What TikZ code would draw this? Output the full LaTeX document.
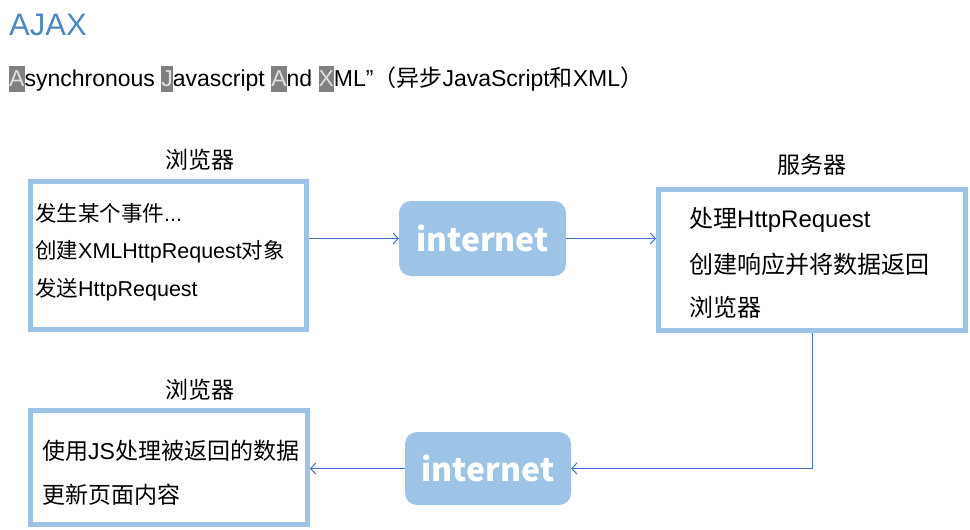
\documentclass[tikz,border=0pt]{standalone}
\usepackage{fontspec}
\setmainfont{Liberation Sans}
\newfontfamily\cjk{Noto Sans CJK SC}
\usetikzlibrary{arrows.meta}
\definecolor{boxblue}{RGB}{157,195,230}
\definecolor{arrowblue}{RGB}{68,114,196}
\definecolor{titleblue}{RGB}{74,134,192}
\definecolor{hlgray}{RGB}{128,128,128}
\newcommand{\hl}[1]{{\setlength{\fboxsep}{0pt}\colorbox{hlgray}{\vrule height 20pt depth 6pt width 0pt\textcolor{white!88!black}{#1}}}}
\newcommand{\zh}[1]{{\cjk #1}}
\tikzset{
  panel/.style={draw=boxblue, line width=5pt, fill=white, inner sep=0pt},
  net/.style={fill=boxblue, rounded corners=12pt, inner sep=0pt, text=white, font=\cjk\fontsize{32}{36}\selectfont\bfseries},
  conn/.style={draw=arrowblue, line width=1pt, -{Straight Barb[length=5pt,width=11pt]}},
  line/.style={anchor=west, inner sep=0pt, text=black},
  caption/.style={inner sep=0pt, font=\cjk\fontsize{23}{27}\selectfont}
}
\begin{document}
\begin{tikzpicture}[x=1pt,y=-1pt]
\useasboundingbox (0,0) rectangle (970,530);
% title
\node[anchor=base west, inner sep=0pt, text=titleblue, font=\fontsize{31}{36}\selectfont] (title) at (9,35) {AJAX};
\node[anchor=base west, inner sep=0pt, font=\fontsize{23}{27}\selectfont] (sub) at (9,86)
  {\hl{A}synchronous \hl{J}avascript \hl{A}nd \hl{X}ML”\zh{（异步}JavaScript\zh{和}XML\zh{）}};
% boxes
\node[panel, minimum width=276pt, minimum height=148pt] (b1) at (168.5,255.5) {};
\node[panel, minimum width=307pt, minimum height=141pt] (srv) at (812,260) {};
\node[panel, minimum width=277pt, minimum height=114pt] (b2) at (169,467.5) {};
\node[net, minimum width=167pt, minimum height=75pt] (i1) at (482.5,238.5) {internet};
\node[net, minimum width=166pt, minimum height=73pt] (i2) at (488,468.5) {internet};
% captions
\node[caption] (c1) at (200,160) {浏览器};
\node[caption] (c2) at (812,165) {服务器};
\node[caption] (c3) at (200,390) {浏览器};
% texts
\begin{scope}[font=\fontsize{21.5}{25}\selectfont]
\node[line] (t11) at (35,213) {\zh{发生某个事件}...};
\node[line] (t12) at (35,252) {\zh{创建}XMLHttpRequest\zh{对象}};
\node[line] (t13) at (35,290) {\zh{发送}HttpRequest};
\end{scope}
\begin{scope}[font=\fontsize{24}{28}\selectfont]
\node[line] (t21) at (689,220) {\zh{处理}HttpRequest};
\node[line] (t22) at (689,264) {\zh{创建响应并将数据返回}};
\node[line] (t23) at (689,307) {\zh{浏览器}};
\end{scope}
\begin{scope}[font=\fontsize{23}{27}\selectfont]
\node[line] (t31) at (42,451) {\zh{使用}JS\zh{处理被返回的数据}};
\node[line] (t32) at (42,495) {\zh{更新页面内容}};
\end{scope}
% connectors
\draw[conn] (b1.east |- i1.west) -- (i1.west);
\draw[conn] (i1.east) -- (srv.west |- i1.east);
\draw[conn] (srv.south) -- (srv.south |- i2.east) -- (i2.east);
\draw[conn] (i2.west) -- (b2.east |- i2.west);
\end{tikzpicture}
\end{document}
